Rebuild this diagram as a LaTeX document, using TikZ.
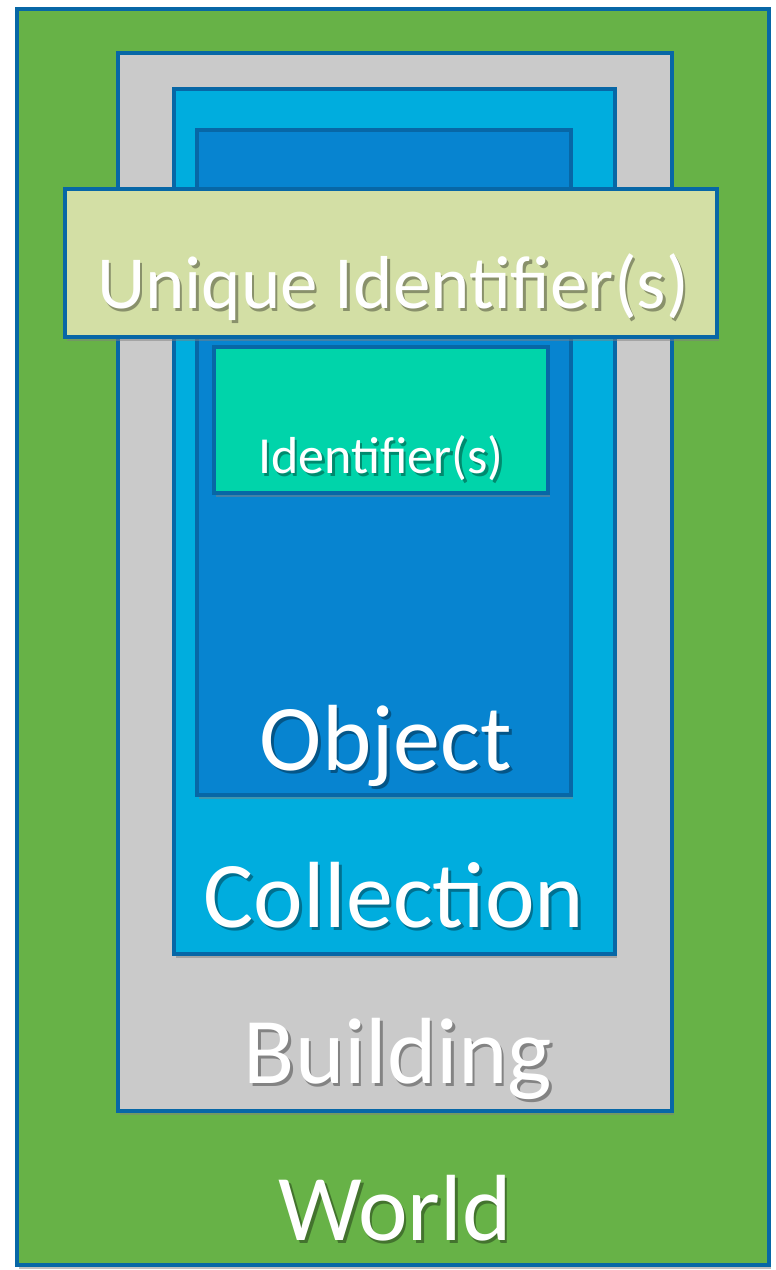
\documentclass[tikz,border=0pt]{standalone}
\usepackage{fontspec}
\setmainfont{Carlito}
\usetikzlibrary{shadows}

\definecolor{edgeblue}{HTML}{0767A6}
\definecolor{worldgreen}{HTML}{67B247}
\definecolor{bldgray}{HTML}{CACACA}
\definecolor{collblue}{HTML}{00ADDE}
\definecolor{objblue}{HTML}{0784D0}
\definecolor{uidpale}{HTML}{D3DFA5}
\definecolor{idteal}{HTML}{00D4AA}

\newcommand\shtxt[1]{\makebox[0pt][l]{\hspace{2.5pt}\raisebox{-3pt}{\pgfsetfillopacity{0.35}\color{black}#1\pgfsetfillopacity{1}}}#1}

\begin{document}
\begin{tikzpicture}[x=1pt,y=-1pt,
  box/.style={draw=edgeblue, line width=4.5pt,
    drop shadow={opacity=0.5, shadow xshift=2pt, shadow yshift=-4pt}},
  lbl/.style={anchor=base, text=white, inner sep=0pt},
  big/.style={lbl, font=\fontsize{94}{94}\selectfont}]

  \useasboundingbox (0,0) rectangle (776,1270);
  \fill[white] (0,0) rectangle (776,1270);

  %% nested boxes, outside in
  \draw[box, fill=worldgreen] (17,9) rectangle (769,1265);
  \draw[box, fill=bldgray] (118,53) rectangle (672,1111);
  \draw[box, fill=collblue] (174,89) rectangle (615,954);
  \draw[box, fill=objblue] (197,130) rectangle (571,795);
  \draw[box, fill=uidpale] (65,189) rectangle (717,337);
  \draw[box, fill=idteal] (214,347) rectangle (548,493);

  %% labels
  \node[lbl, font=\fontsize{75}{75}\selectfont] (uid) at (393,308) {\shtxt{Unique Identifier(s)}};
  \node[lbl, font=\fontsize{52}{52}\selectfont] (ident) at (381,473) {\shtxt{Identifier(s)}};
  \node[big] (object) at (386,770) {\shtxt{Object}};
  \node[big] (collection) at (394,927) {\shtxt{Collection}};
  \node[big] (building) at (398,1083) {\shtxt{Building}};
  \node[big] (world) at (395,1240) {\shtxt{World}};

\end{tikzpicture}
\end{document}
